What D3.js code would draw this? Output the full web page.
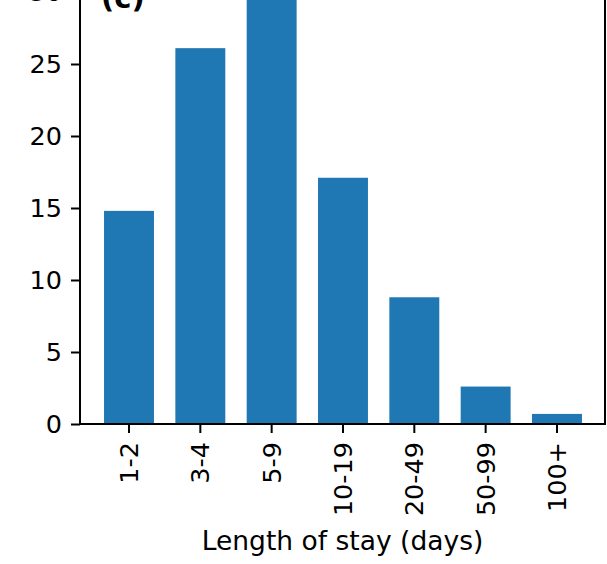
<!DOCTYPE html>
<html>
<head>
<meta charset="utf-8">
<script src="https://cdn.jsdelivr.net/npm/d3@7"></script>
<style>
  body { margin: 0; background: #fff; }
  text { font-family: "DejaVu Sans", sans-serif; }
</style>
</head>
<body>
<div id="chart"></div>
<script>
// data
var categories = ["1-2", "3-4", "5-9", "10-19", "20-49", "50-99", "100+"];
var values = [14.8, 26.1, 31.0, 17.1, 8.8, 2.6, 0.7];
var yTicks = [0, 5, 10, 15, 20, 25, 30];

var W = 607, H = 564;
var left = 80, right = 605, bottom = 424;
var yMax = 32;

var svg = d3.select("#chart").append("svg")
    .attr("width", W)
    .attr("height", H);

// band centred ticks, bars 0.7 of the step
var step = 71.33;
var x = d3.scaleBand()
    .domain(categories)
    .range([129 - step / 2, 129 + 6 * step + step / 2])
    .paddingInner(0.3)
    .paddingOuter(0.15);

var y = d3.scaleLinear()
    .domain([0, yMax])
    .range([bottom, bottom - 14.4 * yMax]);

// bars
svg.selectAll("rect.bar")
    .data(values)
    .enter().append("rect")
    .attr("class", "bar")
    .attr("fill", "#1f77b4")
    .attr("x", function(d, i) { return x(categories[i]); })
    .attr("width", x.bandwidth())
    .attr("y", function(d) { return y(d); })
    .attr("height", function(d) { return bottom - y(d); });

// y axis
var yAxis = svg.append("g")
    .attr("transform", "translate(" + left + ",0)")
    .call(d3.axisLeft(y).tickValues(yTicks).tickSize(9).tickPadding(9).tickFormat(d3.format("d")));
yAxis.select(".domain").remove();
yAxis.selectAll("line").attr("stroke", "#000").attr("stroke-width", 2);
yAxis.selectAll("text").attr("font-size", "25.5px").attr("fill", "#000")
    .attr("font-family", "DejaVu Sans");

// x axis
var xAxis = svg.append("g")
    .attr("transform", "translate(0," + bottom + ")")
    .call(d3.axisBottom(x).tickSize(9).tickPadding(0));
xAxis.select(".domain").remove();
xAxis.selectAll("line").attr("stroke", "#000").attr("stroke-width", 2);
xAxis.selectAll("text")
    .attr("font-size", "25.5px")
    .attr("fill", "#000")
    .attr("font-family", "DejaVu Sans")
    .attr("y", 0)
    .attr("dy", "0.35em")
    .attr("transform", "translate(0,18) rotate(-90)")
    .style("text-anchor", "end");

// spines
svg.append("line")
    .attr("x1", left).attr("x2", left)
    .attr("y1", 0).attr("y2", bottom + 1)
    .attr("stroke", "#000").attr("stroke-width", 2);
svg.append("line")
    .attr("x1", right).attr("x2", right)
    .attr("y1", 0).attr("y2", bottom + 1)
    .attr("stroke", "#000").attr("stroke-width", 2);
svg.append("line")
    .attr("x1", left - 1).attr("x2", right + 1)
    .attr("y1", bottom).attr("y2", bottom)
    .attr("stroke", "#000").attr("stroke-width", 2);

// panel letter
svg.append("text")
    .attr("x", 101)
    .attr("y", 8)
    .attr("font-size", "29px")
    .attr("font-weight", "bold")
    .text("(c)");

// x label
svg.append("text")
    .attr("x", (left + right) / 2)
    .attr("y", 550)
    .attr("text-anchor", "middle")
    .attr("font-size", "26.5px")
    .text("Length of stay (days)");
</script>
</body>
</html>
